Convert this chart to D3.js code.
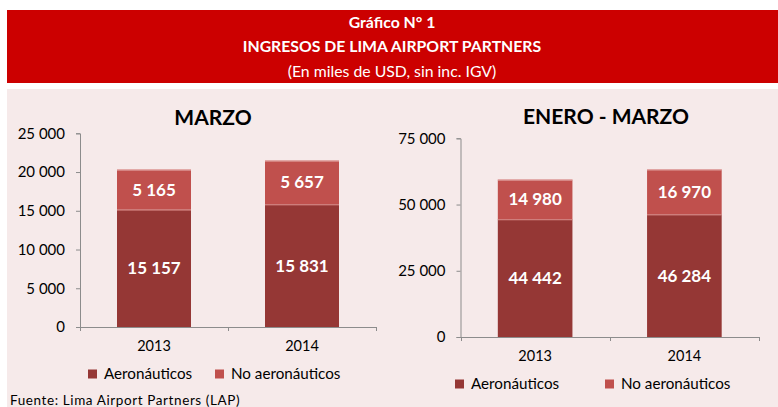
<!DOCTYPE html>
<html><head><meta charset="utf-8">
<script src="https://cdn.jsdelivr.net/npm/d3@7"></script>
<style>
html,body{margin:0;padding:0;background:#fff;}
svg{display:block;font-family:Lato,"Open Sans",sans-serif;}
</style></head><body>
<svg id="c" width="778" height="407"></svg>
<script>
const titleLines = ["Gráfico N° 1", "INGRESOS DE LIMA AIRPORT PARTNERS", "(En miles de USD, sin inc. IGV)"];
const categories = ["2013", "2014"];
const seriesNames = ["Aeronáuticos", "No aeronáuticos"];
const marzoAero = [15157, 15831];
const marzoNoAero = [5165, 5657];
const eneMarAero = [44442, 46284];
const eneMarNoAero = [14980, 16970];
const marzoTicks = [0, 5000, 10000, 15000, 20000, 25000];
const eneMarTicks = [0, 25000, 50000, 75000];
const source = "Fuente: Lima Airport Partners (LAP)";

const colors = ["#953735", "#C0504D"];
const svg = d3.select("#c");
const fmt = v => d3.format(",")(v).replace(/,/g, " ");

// header
svg.append("rect").attr("x", 7).attr("y", 10).attr("width", 771).attr("height", 73).attr("fill", "#CC0000");
svg.append("rect").attr("x", 7).attr("y", 89).attr("width", 771).attr("height", 318).attr("fill", "#F6EAEA");
const hy = [22, 46, 71];
titleLines.forEach((t, i) => {
  svg.append("text").attr("x", 392).attr("y", hy[i]).attr("dy", "0.35em")
    .attr("text-anchor", "middle").attr("fill", "#fff")
    .attr("font-size", 15.8).attr("font-weight", i < 2 ? "bold" : "normal").text(t);
});

function chart(cfg) {
  const g = svg.append("g");
  const x = d3.scaleBand().domain(categories).range([cfg.x0, cfg.x1]).paddingInner(0.5).paddingOuter(0.25);
  const y = d3.scaleLinear().domain([0, cfg.max]).range([cfg.y0, cfg.yTop]);

  g.append("text").attr("x", cfg.titleX).attr("y", cfg.titleY).attr("dy", "0.35em")
    .attr("text-anchor", "middle").attr("font-size", 21).attr("font-weight", "bold")
    .attr("fill", "#000").text(cfg.title);

  const ya = g.append("g").attr("transform", `translate(${cfg.x0},0)`)
    .call(d3.axisLeft(y).tickValues(cfg.ticks).tickFormat(fmt).tickSize(4).tickSizeOuter(4).tickPadding(11));
  ya.selectAll("path,line").attr("stroke", "#8c8c8c");
  ya.selectAll("text").attr("font-size", 15).attr("fill", "#000").attr("font-family", "Lato");

  const stacked = categories.map((c, i) => ({c, a: cfg.aero[i], n: cfg.noAero[i]}));
  const bars = g.selectAll(".b").data(stacked).enter().append("g");
  bars.append("rect").attr("x", d => x(d.c)).attr("width", x.bandwidth())
    .attr("y", d => y(d.a)).attr("height", d => y(0) - y(d.a)).attr("fill", colors[0]);
  bars.append("rect").attr("x", d => x(d.c)).attr("width", x.bandwidth())
    .attr("y", d => y(d.a + d.n)).attr("height", d => y(d.a) - y(d.a + d.n)).attr("fill", colors[1]);
  bars.append("line").attr("x1", d => x(d.c)).attr("x2", d => x(d.c) + x.bandwidth())
    .attr("y1", d => y(d.a) + 0.5).attr("y2", d => y(d.a) + 0.5).attr("stroke", "#d98a87").attr("stroke-width", 1);
  bars.append("line").attr("x1", d => x(d.c)).attr("x2", d => x(d.c) + x.bandwidth())
    .attr("y1", d => y(d.a + d.n) + 0.5).attr("y2", d => y(d.a + d.n) + 0.5).attr("stroke", "#e7b3b1").attr("stroke-width", 1);
  bars.append("text").attr("x", d => x(d.c) + x.bandwidth() / 2).attr("y", d => (y(0) + y(d.a)) / 2)
    .attr("dy", "0.35em").attr("text-anchor", "middle").attr("fill", "#fff")
    .attr("font-size", 17).attr("font-weight", "bold").text(d => fmt(d.a));
  bars.append("text").attr("x", d => x(d.c) + x.bandwidth() / 2).attr("y", d => (y(d.a) + y(d.a + d.n)) / 2)
    .attr("dy", "0.35em").attr("text-anchor", "middle").attr("fill", "#fff")
    .attr("font-size", 17).attr("font-weight", "bold").text(d => fmt(d.n));

  // x axis (Excel style: ticks at category boundaries)
  const xa = g.append("g").attr("transform", `translate(0,${cfg.y0})`)
    .call(d3.axisBottom(x).tickSize(0).tickSizeOuter(0).tickPadding(14));
  xa.select(".domain").attr("stroke", "#8c8c8c");
  xa.selectAll("text").attr("font-size", 14.5).attr("fill", "#000").attr("font-family", "Lato");
  const edges = [cfg.x0].concat(categories.map(c => x(c) + x.bandwidth() + x.step() * 0.25));
  g.selectAll(".xt").data(edges).enter().append("line")
    .attr("x1", d => Math.round(d) + 0.5).attr("x2", d => Math.round(d) + 0.5)
    .attr("y1", cfg.y0).attr("y2", cfg.y0 + 4).attr("stroke", "#8c8c8c");

  // legend
  seriesNames.forEach((s, i) => {
    const lx = cfg.legX[i];
    g.append("rect").attr("x", lx).attr("y", cfg.legY - 4.5).attr("width", 9).attr("height", 9).attr("fill", colors[i]);
    g.append("text").attr("x", lx + 16).attr("y", cfg.legY).attr("dy", "0.35em")
      .attr("font-size", 15.2).attr("fill", "#000").text(s);
  });
}

chart({title: "MARZO", titleX: 213, titleY: 118, x0: 80, x1: 376, y0: 327, yTop: 133.3, max: 25000,
  ticks: marzoTicks, aero: marzoAero, noAero: marzoNoAero, legX: [88, 215], legY: 374});
chart({title: "ENERO - MARZO", titleX: 606, titleY: 117, x0: 460.5, x1: 759, y0: 337, yTop: 138.3, max: 75000,
  ticks: eneMarTicks, aero: eneMarAero, noAero: eneMarNoAero, legX: [455, 605], legY: 384});

svg.append("text").attr("x", 10).attr("y", 405).attr("font-size", 13.5).attr("letter-spacing", 0.6)
  .attr("fill", "#000").text(source);
</script>
</body></html>
